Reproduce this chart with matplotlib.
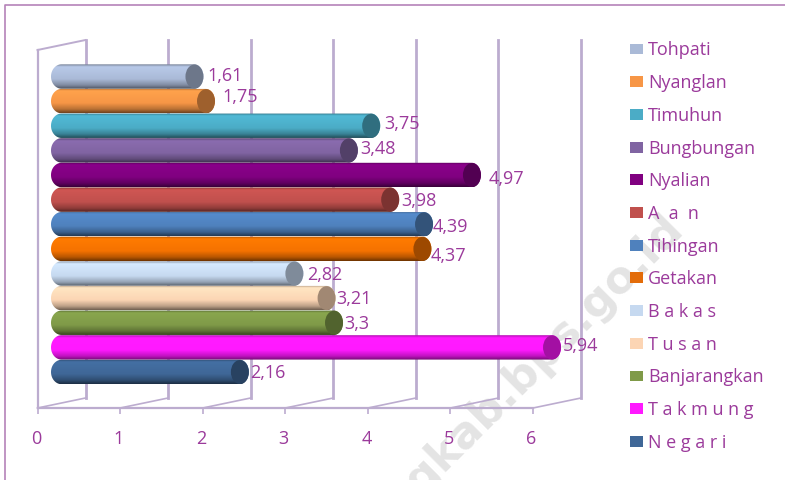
# Kecamatan values, horizontal pseudo-3D cylinder chart
import numpy as np
import matplotlib
matplotlib.use("Agg")
import matplotlib.pyplot as plt
from matplotlib.colors import LinearSegmentedColormap, to_rgb
from matplotlib.patches import Ellipse, Patch, PathPatch
from matplotlib.path import Path
from matplotlib.transforms import offset_copy

# ===== Data =====
names = ["Tohpati", "Nyanglan", "Timuhun", "Bungbungan", "Nyalian", "A  a  n", "Tihingan",
         "Getakan", "B a k a s", "T u s a n", "Banjarangkan", "T a k m u n g", "N e g a r i"]
values = [1.61, 1.75, 3.75, 3.48, 4.97, 3.98, 4.39, 4.37, 2.82, 3.21, 3.3, 5.94, 2.16]
colors = ["#aabad7", "#f79646", "#4bacc6", "#8064a2", "#800080", "#c0504d", "#4f81bd",
          "#f57200", "#c6d9f0", "#fcd5b4", "#7f9a48", "#ff19ff", "#3f6797"]
legend_colors = ["#aabad7", "#f79646", "#4bacc6", "#8064a2", "#800080", "#c0504d", "#4f81bd",
                 "#e36c09", "#c6d9f0", "#fcd5b4", "#7f9a48", "#ff19ff", "#3f6797"]
xticks = [0, 1, 2, 3, 4, 5, 6]

# small hand nudges for the data labels (px)
label_dx = [3, 7, 3, 2, 7, 1, -1, -1, 3, 0, 1, 1, 1]
label_dy = [2, 6, 3, 3, -2, 0, -1, -5, 0, 1, 0, 3, 1]

# ===== Style =====
W, H = 785, 480
purple = "#9b3a9b"
wall = "#bcaccf"
frame = "#b583b9"
plt.rcParams["font.family"] = ["Open Sans", "DejaVu Sans"]

fig = plt.figure(figsize=(W / 100, H / 100), dpi=100)
ax = fig.add_axes([37.5 / W, (H - 408) / H, (533 - 37.5) / W, (408 - 50) / H])

x_px = (533 - 37.5) / 6
y_px = 24.625
y_bottom = (408 - 76.5) / y_px
y_top = (50 - 76.5) / y_px
depth_x = 48 / x_px
depth_y = 10 / y_px
bar_off = 24 / x_px
bar_h = 24.4 / y_px
cap_w = 18 / x_px
left_w = 21 / x_px

# outer frame and watermark
fig.add_artist(plt.Line2D([4.5 / W, 4.5 / W, 1], [0, 1 - 4.5 / H, 1 - 4.5 / H], color=frame, lw=1.2))
fig.text(676 / W, 1 - 221 / H, "ngkab.bps.go.id", rotation=45, rotation_mode="anchor",
         ha="right", va="center", fontsize=32, fontweight="bold", color="#e4e4e4", zorder=-1,
         family="DejaVu Sans")
ax.patch.set_alpha(0)

# ===== Walls =====
for t in xticks:
    ax.plot([t, t + depth_x], [y_bottom, y_bottom - depth_y], color=wall, lw=1.2, zorder=1, clip_on=False)
    ax.plot([t + depth_x] * 2, [y_bottom - depth_y, y_top - depth_y], color=wall, lw=2, zorder=1, clip_on=False)
ax.plot([0, 0], [y_bottom, y_top], color=wall, lw=1.6, zorder=1, clip_on=False)
ax.plot([0, depth_x], [y_top, y_top - depth_y], color=wall, lw=1.4, zorder=1, clip_on=False)


def cylinder_path(x0, x1, yc):
    t = np.linspace(np.pi / 2, 3 * np.pi / 2, 30)
    left = np.column_stack([x0 + left_w / 2 * np.cos(t), yc - bar_h / 2 * np.sin(t)])
    right = np.column_stack([x1 - cap_w / 2 * np.cos(t), yc + bar_h / 2 * np.sin(t)])
    return Path(np.vstack([left, right, left[:1]]))


# ===== Bars =====
for i, (v, c) in enumerate(zip(values, colors)):
    rgb = np.array(to_rgb(c))
    cmap = LinearSegmentedColormap.from_list("cyl", [
        (0.0, rgb * 0.7), (0.1, np.minimum(rgb * 1.08, 1)), (0.6, rgb),
        (0.85, rgb * 0.75), (1.0, rgb * 0.45)])
    x1 = v + bar_off
    grad = np.linspace(0, 1, 60).reshape(-1, 1)
    im = ax.imshow(grad, cmap=cmap, aspect="auto", interpolation="bilinear", zorder=3 + i * 0.01,
                   extent=[bar_off - left_w / 2, x1 + cap_w / 2, i + bar_h / 2, i - bar_h / 2])
    im.set_clip_box(fig.bbox)
    im.set_clip_path(PathPatch(cylinder_path(bar_off, x1, i), transform=ax.transData))
    ax.add_patch(Ellipse((x1, i), cap_w, bar_h * 0.98, facecolor=rgb * 0.64, edgecolor="none",
                         zorder=3 + i * 0.01 + 0.005, clip_on=False))
    ax.annotate(f"{v:g}".replace(".", ","), (x1 + cap_w / 2, i), xycoords="data",
                xytext=(label_dx[i] * 0.72 + 0.5, label_dy[i] * 0.72 - 1.2), textcoords="offset points",
                ha="left", va="center", color=purple, fontsize=13, zorder=6, annotation_clip=False)

# ===== Axis =====
ax.set_xlim(0, 6)
ax.set_ylim(y_bottom, y_top)
ax.set_yticks([])
ax.set_xticks(xticks)
ax.set_xticklabels([str(t) for t in xticks], color=purple, fontsize=13)
ax.tick_params(axis="x", length=4, width=1.2, color=wall, pad=12)
for lab in ax.get_xticklabels():
    lab.set_transform(offset_copy(lab.get_transform(), fig=fig, x=-1.5, y=0, units="dots"))
for side in ["top", "left", "right"]:
    ax.spines[side].set_visible(False)
ax.spines["bottom"].set_color(wall)
ax.spines["bottom"].set_linewidth(1.6)

# ===== Legend =====
handles = [Patch(facecolor=c, edgecolor="none") for c in legend_colors]
fig.legend(handles, names, loc="upper left", bbox_to_anchor=(625 / W, 1 - 36 / H), frameon=False,
           fontsize=13, labelcolor=purple, labelspacing=0.814, handlelength=0.68, handleheight=0.55,
           handletextpad=0.28, borderpad=0.3, borderaxespad=0)

fig.savefig("out.png", dpi=100)
